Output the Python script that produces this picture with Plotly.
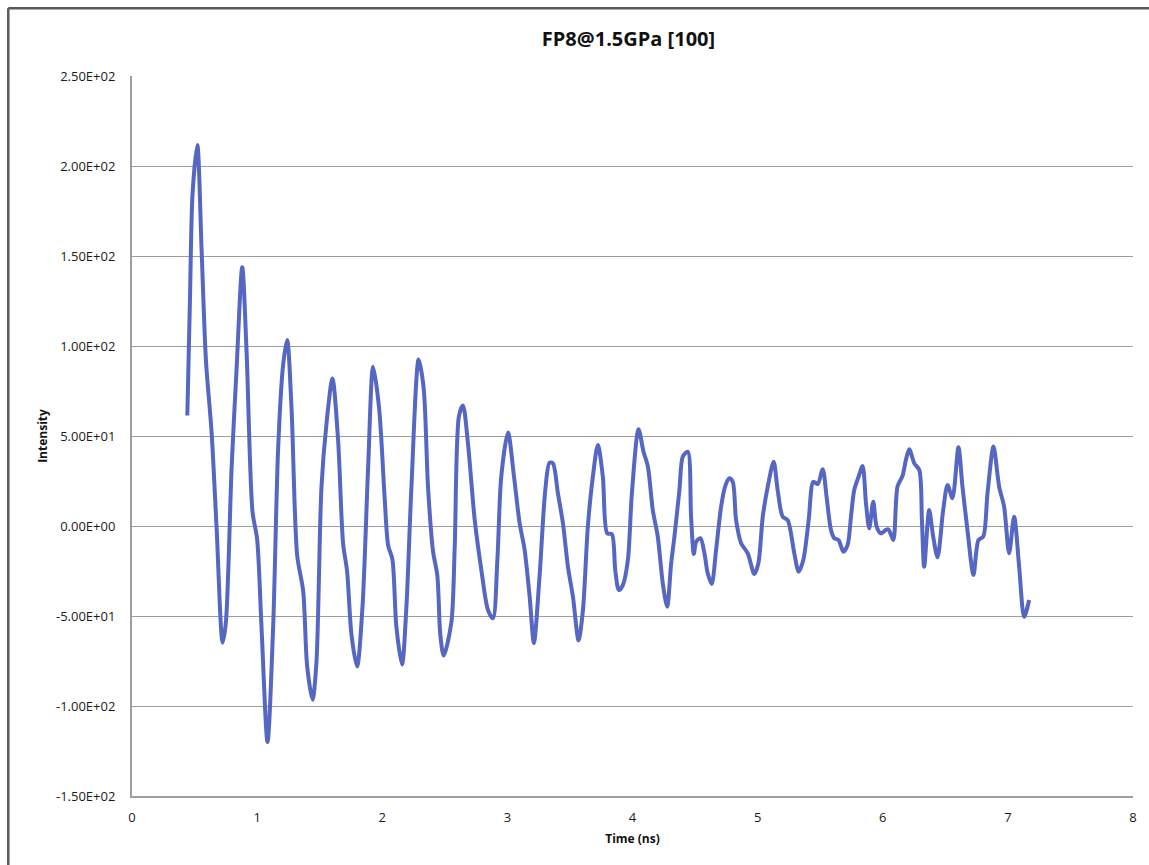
import plotly.graph_objects as go

title_text = "FP8@1.5GPa [100]"
x_title = "Time (ns)"
y_title = "Intensity"

time_ns = [
    0.442, 0.463, 0.484, 0.522, 0.556, 0.591, 0.636, 0.676, 0.724, 0.750,
    0.796, 0.836, 0.881, 0.916, 0.963, 1.000, 1.035, 1.083, 1.128, 1.168,
    1.208, 1.240, 1.275, 1.320, 1.368, 1.400, 1.443, 1.474, 1.514, 1.554,
    1.602, 1.647, 1.687, 1.719, 1.754, 1.799, 1.842, 1.887, 1.927, 1.975,
    2.020, 2.047, 2.081, 2.113, 2.158, 2.193, 2.233, 2.291, 2.331, 2.366,
    2.406, 2.440, 2.464, 2.491, 2.552, 2.579, 2.613, 2.645, 2.685, 2.739,
    2.792, 2.845, 2.885, 2.920, 2.951, 3.005, 3.053, 3.098, 3.138, 3.178,
    3.212, 3.257, 3.303, 3.337, 3.364, 3.404, 3.444, 3.484, 3.524, 3.569,
    3.604, 3.643, 3.683, 3.723, 3.763, 3.798, 3.835, 3.862, 3.891, 3.923,
    3.963, 3.995, 4.048, 4.088, 4.123, 4.162, 4.202, 4.242, 4.277, 4.309,
    4.335, 4.375, 4.402, 4.442, 4.468, 4.490, 4.509, 4.543, 4.575, 4.601,
    4.633, 4.668, 4.708, 4.740, 4.774, 4.801, 4.828, 4.868, 4.921, 4.974,
    5.006, 5.041, 5.081, 5.128, 5.160, 5.200, 5.240, 5.293, 5.328, 5.365,
    5.408, 5.445, 5.480, 5.520, 5.551, 5.586, 5.613, 5.647, 5.685, 5.719,
    5.746, 5.772, 5.807, 5.839, 5.866, 5.892, 5.924, 5.951, 5.986, 6.025,
    6.046, 6.084, 6.118, 6.158, 6.185, 6.212, 6.252, 6.292, 6.313, 6.331,
    6.371, 6.403, 6.438, 6.483, 6.518, 6.557, 6.605, 6.637, 6.677, 6.725,
    6.765, 6.803, 6.837, 6.885, 6.930, 6.970, 7.010, 7.050, 7.090, 7.130,
    7.170,
]

intensity = [
    61.4, 125.0, 184.7, 211.6, 153.8, 91.9, 52.2, -0.8, -64.8, -53.8,
    32.3, 87.5, 143.8, 96.3, 8.0, -7.4, -56.0, -120.0, -56.0, 43.3,
    89.7, 103.4, 65.4, -16.3, -36.1, -78.1, -96.5, -75.9, 21.3, 56.6,
    82.0, 47.8, -9.7, -25.1, -60.4, -78.0, -45.0, 32.3, 88.5, 65.4,
    14.7, -10.7, -18.5, -56.0, -77.0, -45.0, 21.3, 92.5, 76.5, 21.3,
    -14.1, -27.3, -60.4, -72.0, -53.8, -11.8, 61.0, 67.0, 45.9, 3.3,
    -24.4, -46.7, -51.3, -18.9, 27.4, 51.9, 27.4, 1.5, -13.3, -39.3,
    -65.0, -28.1, 20.0, 35.2, 34.8, 18.1, 1.5, -22.6, -39.3, -63.5,
    -46.7, -0.4, 27.4, 45.0, 27.4, -4.1, -4.5, -24.4, -35.6, -32.8,
    -18.9, 18.1, 53.7, 41.3, 33.0, 8.9, -5.9, -31.9, -44.8, -20.7,
    -5.9, 20.0, 38.5, 41.3, 5.2, -15.6, -8.7, -6.8, -15.2, -26.3,
    -32.2, -13.3, 10.7, 21.9, 26.5, 24.6, 3.3, -9.6, -15.2, -26.7,
    -20.7, 5.2, 21.9, 35.7, 20.0, 5.2, 3.3, -15.2, -25.4, -18.9,
    3.3, 24.6, 23.3, 31.5, 16.3, -2.2, -6.8, -7.8, -14.3, -10.6,
    5.2, 20.0, 27.4, 33.3, 12.6, -1.3, 13.5, -0.4, -4.1, -2.2,
    -1.9, -7.8, 21.9, 27.8, 36.7, 42.6, 34.8, 31.1, 3.3, -22.6,
    8.9, -5.9, -17.4, 8.9, 22.8, 15.4, 43.7, 21.9, -2.2, -27.2,
    -7.8, -5.9, 18.1, 44.1, 21.9, 10.7, -15.2, 5.2, -22.6, -50.4,
    -41.1,
]

y_tick_vals = [-150, -100, -50, 0, 50, 100, 150, 200, 250]
y_tick_text = ["-1.50E+02", "-1.00E+02", "-5.00E+01", "0.00E+00", "5.00E+01",
               "1.00E+02", "1.50E+02", "2.00E+02", "2.50E+02"]
x_tick_vals = [0, 1, 2, 3, 4, 5, 6, 7, 8]

FONT = "Open Sans"
GRID = "#9E9E9E"

fig = go.Figure()
fig.add_trace(go.Scatter(
    x=time_ns, y=intensity, mode="lines",
    line=dict(color="#5567C2", width=4, shape="spline", smoothing=0.8),
    showlegend=False, hoverinfo="skip",
))

fig.update_layout(
    width=1149, height=865,
    margin=dict(l=132, r=14, t=76, b=69),
    paper_bgcolor="white", plot_bgcolor="white",
    font=dict(family=FONT, color="#222222"),
    title=dict(text="<b>" + title_text + "</b>", x=0.547, xanchor="center",
               y=0.955, yanchor="middle", font=dict(family=FONT, size=20, color="#111111")),
    xaxis=dict(
        range=[0, 8], tickvals=x_tick_vals, showgrid=False, zeroline=False,
        showline=True, linecolor=GRID, linewidth=2, ticks="",
        ticklabelstandoff=8, tickfont=dict(family=FONT, size=13, color="#1A1A1A"),
        title=dict(text="<b>" + x_title + "</b>", standoff=10,
                   font=dict(family=FONT, size=12, color="#111111")),
    ),
    yaxis=dict(
        range=[-150, 250], tickvals=y_tick_vals, ticktext=y_tick_text,
        showgrid=True, gridcolor=GRID, gridwidth=1.3, zeroline=False,
        showline=True, linecolor=GRID, linewidth=2, ticks="",
        ticklabelstandoff=12, tickfont=dict(family=FONT, size=13, color="#1A1A1A"),
        title=dict(text="<b>" + y_title + "</b>", standoff=6,
                   font=dict(family=FONT, size=12, color="#111111")),
    ),
    shapes=[
        dict(type="line", xref="paper", yref="paper", x0=-0.1236, x1=1.02,
             y0=1.094, y1=1.094, line=dict(color="#5A5A5A", width=2.5)),
        dict(type="line", xref="paper", yref="paper", x0=-0.1236, x1=-0.1236,
             y0=1.094, y1=-0.11, line=dict(color="#5A5A5A", width=2.5)),
    ],
)

fig.write_html("out.html")
